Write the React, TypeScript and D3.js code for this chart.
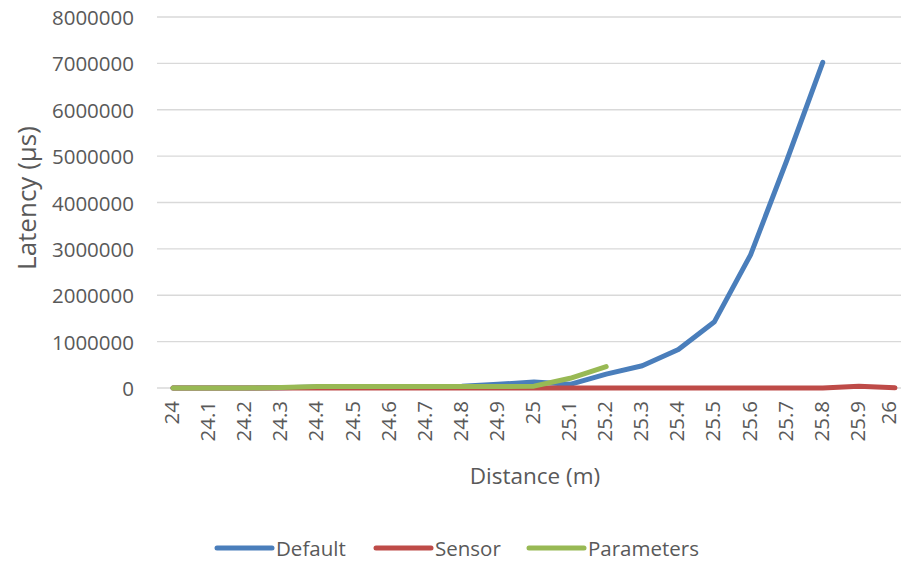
import React from "react";
import * as d3 from "d3";

const categories = ["24", "24.1", "24.2", "24.3", "24.4", "24.5", "24.6", "24.7", "24.8", "24.9", "25", "25.1", "25.2", "25.3", "25.4", "25.5", "25.6", "25.7", "25.8", "25.9", "26"];
const defaultValues: (number | null)[] = [0, 0, 0, 5000, 20000, 20000, 20000, 25000, 40000, 80000, 130000, 80000, 300000, 480000, 830000, 1430000, 2870000, 4900000, 7020000, null, null];
const sensorValues: (number | null)[] = [0, 0, 0, 0, 0, 0, 0, 0, 0, 0, 0, 0, 0, 0, 0, 0, 0, 0, 0, 40000, 5000];
const parameterValues: (number | null)[] = [0, 0, 0, 10000, 30000, 30000, 30000, 30000, 30000, 30000, 40000, 210000, 460000, null, null, null, null, null, null, null, null];
const yTicks = [0, 1000000, 2000000, 3000000, 4000000, 5000000, 6000000, 7000000, 8000000];

const seriesList = [
  { name: "Default", color: "#4A7EBB", values: defaultValues },
  { name: "Sensor", color: "#BE4B48", values: sensorValues },
  { name: "Parameters", color: "#98B954", values: parameterValues },
];

const W = 901;
const H = 562;
const FONT = "'Open Sans', 'Noto Sans', sans-serif";
const TEXT = "#595959";

export default function App() {
  const x = d3.scaleBand<string>().domain(categories).range([155, 913]);
  const y = d3.scaleLinear().domain([0, 8000000]).range([388, 17]);
  const cx = (c: string) => (x(c) ?? 0) + x.bandwidth() / 2;

  const line = d3
    .line<number | null>()
    .defined((v) => v !== null)
    .x((_, i) => cx(categories[i]))
    .y((v) => y(v as number));

  const legendItems = [
    { x: 217, tx: 276 },
    { x: 376, tx: 435 },
    { x: 529, tx: 588 },
  ];

  return (
    <svg width={W} height={H} style={{ position: "absolute", left: 0, top: 0, background: "#fff" }}>
      {/* horizontal gridlines */}
      {yTicks.map((t) => (
        <line key={t} x1={157} x2={W} y1={y(t)} y2={y(t)} stroke="#D9D9D9" strokeWidth={1.3} />
      ))}
      {/* y tick labels */}
      {yTicks.map((t) => (
        <text key={t} x={134} y={y(t)} textAnchor="end" dominantBaseline="central" fontFamily={FONT} fontSize={20.5} fill={TEXT}>
          {t}
        </text>
      ))}
      {/* x tick labels, rotated; the last one is kept inside the right edge */}
      {categories.map((c) => (
        <text
          key={c}
          transform={`translate(${Math.min(cx(c) - 2, W - 13)},401) rotate(-90)`}
          textAnchor="end"
          dominantBaseline="central"
          fontFamily={FONT}
          fontSize={20.5}
          fill={TEXT}
        >
          {c}
        </text>
      ))}
      {/* series lines */}
      {seriesList.map((s) => (
        <path
          key={s.name}
          d={line(s.values) ?? ""}
          fill="none"
          stroke={s.color}
          strokeWidth={5}
          strokeLinecap="round"
          strokeLinejoin="round"
        />
      ))}
      {/* axis titles */}
      <text transform="translate(26,198) rotate(-90)" textAnchor="middle" dominantBaseline="central" fontFamily={FONT} fontSize={26} fill={TEXT}>
        Latency (µs)
      </text>
      <text x={535} y={475} textAnchor="middle" dominantBaseline="central" fontFamily={FONT} fontSize={22.5} fill={TEXT}>
        Distance (m)
      </text>
      {/* legend */}
      {seriesList.map((s, i) => (
        <g key={s.name}>
          <line x1={legendItems[i].x} x2={legendItems[i].x + 55} y1={548} y2={548} stroke={s.color} strokeWidth={5} strokeLinecap="round" />
          <text x={legendItems[i].tx} y={548} dominantBaseline="central" fontFamily={FONT} fontSize={20.5} fill={TEXT}>
            {s.name}
          </text>
        </g>
      ))}
    </svg>
  );
}
